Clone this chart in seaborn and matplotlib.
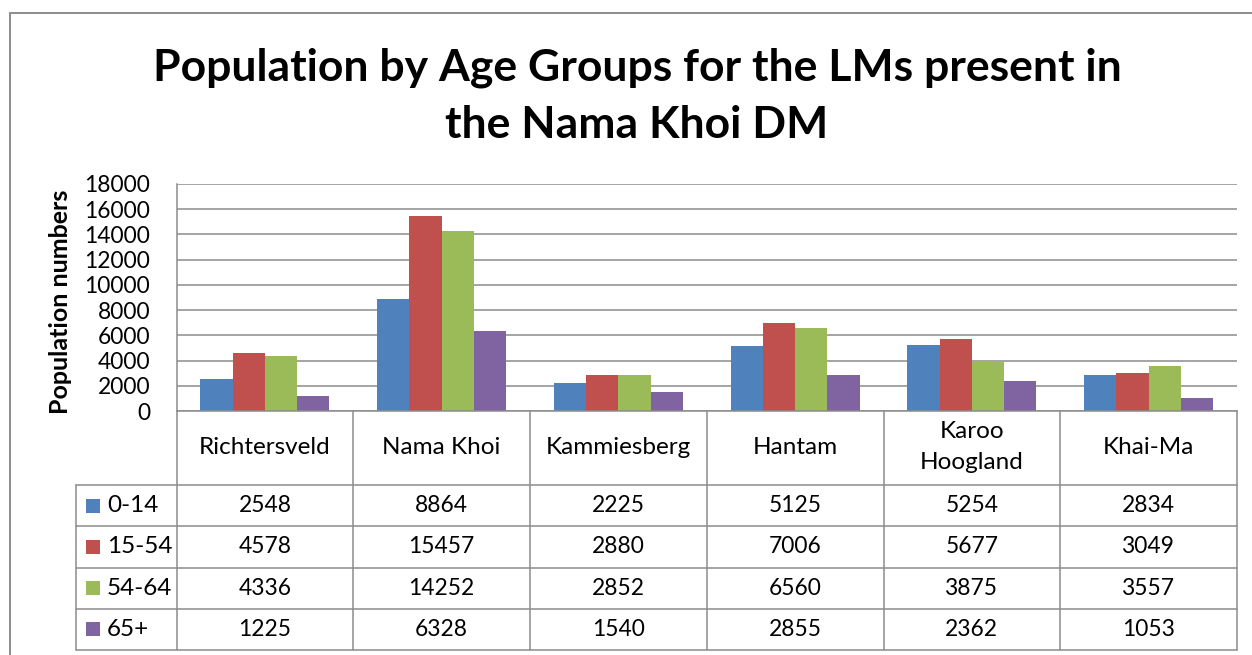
import matplotlib
matplotlib.use("Agg")
import matplotlib.pyplot as plt
import seaborn as sns
import pandas as pd
from matplotlib.lines import Line2D
from matplotlib.patches import Rectangle

# ---- data ----
categories = ["Richtersveld", "Nama Khoi", "Kammiesberg", "Hantam", "Karoo\nHoogland", "Khai-Ma"]
age_groups = ["0-14", "15-54", "54-64", "65+"]
vals_0_14 = [2548, 8864, 2225, 5125, 5254, 2834]
vals_15_54 = [4578, 15457, 2880, 7006, 5677, 3049]
vals_54_64 = [4336, 14252, 2852, 6560, 3875, 3557]
vals_65p = [1225, 6328, 1540, 2855, 2362, 1053]
colors = ["#4F81BD", "#C0504D", "#9BBB59", "#8064A2"]
yticks = [0, 2000, 4000, 6000, 8000, 10000, 12000, 14000, 16000, 18000]
title = "Population by Age Groups for the LMs present in\nthe Nama Khoi DM"
ylabel = "Population numbers"

series = [vals_0_14, vals_15_54, vals_54_64, vals_65p]
rows = []
for g, vals in zip(age_groups, series):
    for c, v in zip(categories, vals):
        rows.append({"category": c, "group": g, "value": v})
df = pd.DataFrame(rows)

sns.set_theme(style="white")
plt.rcParams["font.family"] = ["Lato", "DejaVu Sans"]

W, H = 1252, 655
fig = plt.figure(figsize=(W / 100, H / 100), dpi=100)
fig.patch.set_facecolor("white")

LINE = "#8c8c8c"
# plot area (pixels)
px_left, px_right, px_top, px_bottom = 176.5, 1237, 184, 411
ax = fig.add_axes([px_left / W, 1 - px_bottom / H, (px_right - px_left) / W, (px_bottom - px_top) / H])
ax.patch.set_visible(False)

sns.barplot(data=df, x="category", y="value", hue="group", order=categories,
            hue_order=age_groups, palette=colors, width=0.73, saturation=1,
            linewidth=0, legend=False, ax=ax)
ax.set_xlim(-0.5, len(categories) - 0.5)
ax.set_ylim(0, 18000)
ax.set_yticks(yticks)
ax.set_yticklabels([str(t) for t in yticks], fontsize=16.4, color="black")
ax.tick_params(axis="y", length=0, pad=19)
ax.set_xticks([])
ax.set_xlabel("")
ax.set_ylabel("")
ax.yaxis.grid(True, color=LINE, linewidth=1.1)
ax.set_axisbelow(True)
for s in ["top", "right"]:
    ax.spines[s].set_visible(False)
for s in ["left", "bottom"]:
    ax.spines[s].set_color(LINE)
    ax.spines[s].set_linewidth(1.1)

# overlay axes in pixel coordinates for frame, title, table
ov = fig.add_axes([0, 0, 1, 1], zorder=5)
ov.set_xlim(0, W)
ov.set_ylim(H, 0)
ov.axis("off")
ov.patch.set_visible(False)

# outer frame
ov.add_line(Line2D([10, 10], [13, H], color=LINE, lw=1.4))
ov.add_line(Line2D([10, W], [13, 13], color=LINE, lw=1.4))

ov.text(637, 96, title, ha="center", va="center", fontsize=32, fontweight="bold",
        linespacing=1.5, color="black")
ov.text(61, 302, ylabel, rotation=90, ha="center", va="center", fontsize=18,
        fontweight="bold", color="black")

# table geometry
col_w = (px_right - px_left) / len(categories)
col_edges = [px_left + i * col_w for i in range(len(categories) + 1)]
leg_left = 76
hdr_top, hdr_bot = 411, 485
row_h = (650 - hdr_bot) / len(age_groups)
row_edges = [hdr_bot + i * row_h for i in range(len(age_groups) + 1)]

lw = 1.1
for x in col_edges:
    ov.add_line(Line2D([x, x], [hdr_top, row_edges[-1]], color=LINE, lw=lw))
ov.add_line(Line2D([leg_left, leg_left], [hdr_bot, row_edges[-1]], color=LINE, lw=lw))
for y in row_edges:
    ov.add_line(Line2D([leg_left, px_right], [y, y], color=LINE, lw=lw))

fs_num = 16.4
fs_txt = 17.5
for i, c in enumerate(categories):
    cx = (col_edges[i] + col_edges[i + 1]) / 2
    ov.text(cx, (hdr_top + hdr_bot) / 2 - 1, c, ha="center", va="center", fontsize=fs_txt,
            linespacing=1.55, color="black")

for r, (g, vals, col) in enumerate(zip(age_groups, series, colors)):
    cy = (row_edges[r] + row_edges[r + 1]) / 2
    ov.add_patch(Rectangle((86, cy - 7), 14, 14, facecolor=col, edgecolor="none"))
    ov.text(107, cy, g, ha="left", va="center", fontsize=fs_txt, color="black")
    for i, v in enumerate(vals):
        cx = (col_edges[i] + col_edges[i + 1]) / 2
        ov.text(cx, cy, str(v), ha="center", va="center", fontsize=fs_num, color="black")

fig.savefig("out.png", dpi=100, facecolor="white")
